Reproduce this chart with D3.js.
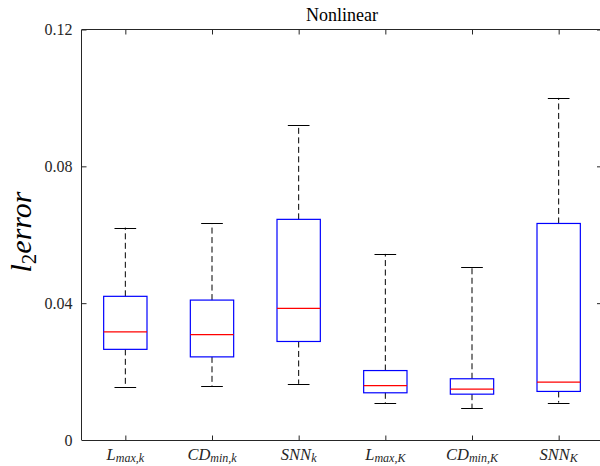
<!DOCTYPE html>
<html>
<head>
<meta charset="utf-8">
<script src="https://cdn.jsdelivr.net/npm/d3@7"></script>
<style>
  html, body { margin: 0; padding: 0; background: #fff; }
  svg { display: block; }
</style>
</head>
<body>
<svg id="chart" width="600" height="466"></svg>
<script>
// ---- data ----
const catMain = ["L", "CD", "SNN", "L", "CD", "SNN"];
const catSub = ["max,k", "min,k", "k", "max,K", "min,K", "K"];
const whiskerHi = [0.0621, 0.0633, 0.0920, 0.0544, 0.0506, 0.1000];
const q3 = [0.0420, 0.0409, 0.0645, 0.0203, 0.0179, 0.0633];
const medians = [0.0316, 0.0308, 0.0385, 0.0159, 0.0149, 0.0169];
const q1 = [0.0265, 0.0243, 0.0288, 0.0138, 0.0134, 0.0142];
const whiskerLo = [0.0155, 0.0158, 0.0164, 0.0107, 0.0093, 0.0109];
const yTicks = [0, 0.04, 0.08, 0.12];
const yTickLabels = ["0", "0.04", "0.08", "0.12"];
const titleText = "Nonlinear";

(function () {
const SERIF = "'Liberation Serif', 'Times New Roman', serif";
const svg = d3.select("#chart");
const pL = 82, pR = 602, pT = 29.5, pB = 440;
const x = d3.scaleLinear().domain([0.5, 6.5]).range([pL, pR]);
const y = d3.scaleLinear().domain([0, 0.12]).range([pB, pT]);
const axisColor = "#262626";
const boxW = 0.25, capW = 0.125;

const idx = d3.range(catMain.length);
const g = svg.append("g");

g.selectAll(".wu").data(idx).join("line")
  .attr("x1", i => x(i + 1)).attr("x2", i => x(i + 1))
  .attr("y1", i => y(q3[i])).attr("y2", i => y(whiskerHi[i]))
  .attr("stroke", "#000").attr("stroke-width", 1).attr("stroke-dasharray", "6,3.5");
g.selectAll(".wl").data(idx).join("line")
  .attr("x1", i => x(i + 1)).attr("x2", i => x(i + 1))
  .attr("y1", i => y(q1[i])).attr("y2", i => y(whiskerLo[i]))
  .attr("stroke", "#000").attr("stroke-width", 1).attr("stroke-dasharray", "6,3.5");
g.selectAll(".cu").data(idx).join("line")
  .attr("x1", i => x(i + 1 - capW)).attr("x2", i => x(i + 1 + capW))
  .attr("y1", i => Math.round(y(whiskerHi[i])) + 0.5).attr("y2", i => Math.round(y(whiskerHi[i])) + 0.5)
  .attr("stroke", "#000").attr("stroke-width", 1);
g.selectAll(".cl").data(idx).join("line")
  .attr("x1", i => x(i + 1 - capW)).attr("x2", i => x(i + 1 + capW))
  .attr("y1", i => Math.round(y(whiskerLo[i])) + 0.5).attr("y2", i => Math.round(y(whiskerLo[i])) + 0.5)
  .attr("stroke", "#000").attr("stroke-width", 1);
g.selectAll(".box").data(idx).join("rect")
  .attr("x", i => x(i + 1 - boxW)).attr("width", i => x(i + 1 + boxW) - x(i + 1 - boxW))
  .attr("y", i => y(q3[i])).attr("height", i => y(q1[i]) - y(q3[i]))
  .attr("fill", "none").attr("stroke", "#0000ff").attr("stroke-width", 1.2);
g.selectAll(".med").data(idx).join("line")
  .attr("x1", i => x(i + 1 - boxW)).attr("x2", i => x(i + 1 + boxW))
  .attr("y1", i => y(medians[i])).attr("y2", i => y(medians[i]))
  .attr("stroke", "#ff0000").attr("stroke-width", 1.2);

const frame = svg.append("g");
frame.append("line").attr("x1", pL).attr("x2", pR).attr("y1", pB + 0.5).attr("y2", pB + 0.5).attr("stroke", axisColor);
frame.append("line").attr("x1", pL).attr("x2", pR).attr("y1", pT).attr("y2", pT).attr("stroke", axisColor);
frame.append("line").attr("x1", pL - 0.5).attr("x2", pL - 0.5).attr("y1", pT).attr("y2", pB).attr("stroke", axisColor);
frame.append("line").attr("x1", pR).attr("x2", pR).attr("y1", pT).attr("y2", pB).attr("stroke", axisColor);

const xAxis = d3.axisBottom(x).tickValues(d3.range(1, 7)).tickSizeInner(-5).tickSizeOuter(0).tickFormat("");
const gx = svg.append("g").attr("transform", `translate(0,${pB + 0.5})`).call(xAxis);
gx.select(".domain").remove();
gx.selectAll(".tick line").attr("stroke", axisColor);
const xAxisTop = d3.axisTop(x).tickValues(d3.range(1, 7)).tickSizeInner(-5).tickSizeOuter(0).tickFormat("");
const gxt = svg.append("g").attr("transform", `translate(0,${pT})`).call(xAxisTop);
gxt.select(".domain").remove();
gxt.selectAll(".tick line").attr("stroke", axisColor);

const yAxis = d3.axisLeft(y).tickValues(yTicks).tickSizeInner(-5).tickSizeOuter(0)
  .tickFormat((d, i) => yTickLabels[i]).tickPadding(9);
const gy = svg.append("g").attr("transform", `translate(${pL - 0.5},0)`).call(yAxis);
gy.attr("font-family", SERIF).attr("font-size", 16);
gy.select(".domain").remove();
gy.selectAll(".tick line").attr("stroke", axisColor);
gy.selectAll(".tick text").attr("fill", axisColor);
const yAxisR = d3.axisRight(y).tickValues(yTicks).tickSizeInner(-5).tickSizeOuter(0).tickFormat("");
const gyr = svg.append("g").attr("transform", `translate(${pR},0)`).call(yAxisR);
gyr.select(".domain").remove();
gyr.selectAll(".tick line").attr("stroke", axisColor);

const xl = svg.append("g").attr("font-family", SERIF);
idx.forEach(i => {
  const t = xl.append("text").attr("x", x(i + 1)).attr("y", 459.5)
    .attr("text-anchor", "middle").attr("font-style", "italic")
    .attr("font-size", 16.5).attr("fill", axisColor);
  t.append("tspan").text(catMain[i]);
  t.append("tspan").attr("font-size", 12).attr("dy", 2.5).text(catSub[i]);
});

svg.append("text").attr("x", (pL + pR) / 2).attr("y", 20.5).attr("font-family", SERIF)
  .attr("text-anchor", "middle").attr("font-size", 18).attr("fill", "#000").text(titleText);

const yl = svg.append("text").attr("transform", `translate(31,232) rotate(-90)`).attr("font-family", SERIF)
  .attr("text-anchor", "middle").attr("font-style", "italic").attr("font-size", 30).attr("fill", "#000");
yl.append("tspan").text("l");
yl.append("tspan").attr("font-size", 21).attr("font-style", "normal").attr("dy", 5).text("2");
yl.append("tspan").attr("dy", -5).text("error");
})();
</script>
</body>
</html>
